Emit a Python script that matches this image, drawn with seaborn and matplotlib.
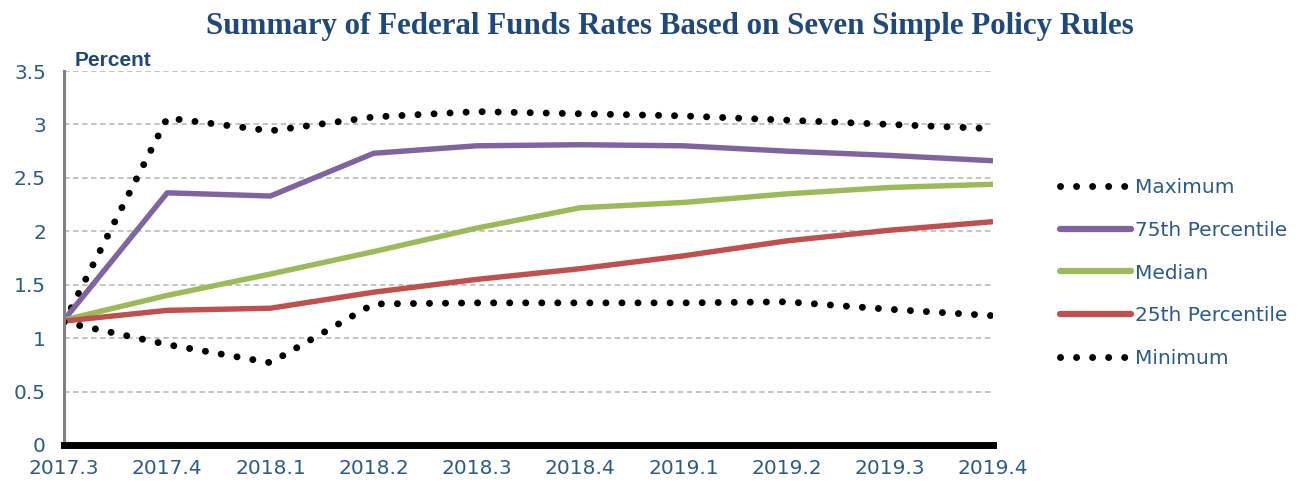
import numpy as np
import pandas as pd
import matplotlib
matplotlib.use("Agg")
import matplotlib.pyplot as plt
import seaborn as sns
from matplotlib.lines import Line2D

# ---------- data ----------
quarters = ["2017.3", "2017.4", "2018.1", "2018.2", "2018.3",
            "2018.4", "2019.1", "2019.2", "2019.3", "2019.4"]
maximum = [1.15, 3.06, 2.94, 3.07, 3.12, 3.10, 3.08, 3.04, 3.00, 2.96]
p75     = [1.17, 2.36, 2.33, 2.73, 2.80, 2.81, 2.80, 2.75, 2.71, 2.66]
median  = [1.17, 1.40, 1.60, 1.81, 2.03, 2.22, 2.27, 2.35, 2.41, 2.44]
p25     = [1.16, 1.26, 1.28, 1.43, 1.55, 1.65, 1.77, 1.91, 2.01, 2.09]
minimum = [1.15, 0.94, 0.77, 1.32, 1.33, 1.33, 1.33, 1.34, 1.27, 1.21]

series_names = ["Maximum", "75th Percentile", "Median", "25th Percentile", "Minimum"]
series_vals = [maximum, p75, median, p25, minimum]

rows = []
for name, vals in zip(series_names, series_vals):
    for i, v in enumerate(vals):
        rows.append({"pos": i, "quarter": quarters[i], "series": name, "value": v})
df = pd.DataFrame(rows)

# ---------- style ----------
sns.set_theme(style="white")
plt.rcParams["font.family"] = ["DejaVu Sans"]

text_blue = "#2A5A8E"
title_blue = "#1F497D"
colors = {
    "Maximum": "black",
    "75th Percentile": "#8064A2",
    "Median": "#9BBB59",
    "25th Percentile": "#C0504D",
    "Minimum": "black",
}
dotted = (0, (0.01, 2.3))

fig = plt.figure(figsize=(13.03, 4.87), dpi=100)
ax = fig.add_axes([64 / 1303, 1 - 445 / 487, (993 - 64) / 1303, (445 - 71) / 487])

for name in series_names:
    sub = df[df["series"] == name]
    is_dot = name in ("Maximum", "Minimum")
    sns.lineplot(
        data=sub, x="pos", y="value", ax=ax, color=colors[name],
        lw=5.0 if is_dot else 3.9, legend=False, sort=False,
        dash_capstyle="round", solid_capstyle="butt",
    )
    if is_dot:
        ax.lines[-1].set_linestyle(dotted)

# ---------- axes ----------
ax.set_xlim(0, len(quarters) - 1)
ax.set_ylim(0, 3.5)
ax.set_xticks(range(len(quarters)))
ax.set_xticklabels(quarters)
ax.set_yticks(np.arange(0, 3.51, 0.5))
ax.set_yticklabels(["0", "0.5", "1", "1.5", "2", "2.5", "3", "3.5"])
ax.set_xlabel("")
ax.set_ylabel("")
ax.tick_params(axis="both", length=0, labelsize=14.5, labelcolor=text_blue)
ax.tick_params(axis="y", pad=13)
ax.tick_params(axis="x", pad=10)

ax.grid(axis="y", color="#BFBFBF", linestyle=(0, (3, 2)), lw=1.3)
ax.grid(axis="x", visible=False)
for s in ["top", "right"]:
    ax.spines[s].set_visible(False)
ax.spines["left"].set_color("#808080")
ax.spines["left"].set_linewidth(2.2)
ax.spines["bottom"].set_color("black")
ax.spines["bottom"].set_linewidth(5)
ax.spines["bottom"].set_zorder(5)

# ---------- text ----------
fig.text(0.514, 0.945, "Summary of Federal Funds Rates Based on Seven Simple Policy Rules",
         ha="center", va="center", fontsize=22.3, fontweight="bold",
         family=["Liberation Serif", "DejaVu Serif"], color=title_blue)
fig.text(75 / 1303, 1 - 60 / 487, "Percent", ha="left", va="center", fontsize=15,
         fontweight="bold", family=["Liberation Sans", "DejaVu Sans"], color=title_blue)

# ---------- legend ----------
handles = []
for name in series_names:
    if name in ("Maximum", "Minimum"):
        h = Line2D([], [], color="black", lw=5.0, linestyle=dotted, dash_capstyle="round")
    else:
        h = Line2D([], [], color=colors[name], lw=4.5, solid_capstyle="round")
    handles.append(h)
leg = fig.legend(handles, series_names, loc="center left",
                 bbox_to_anchor=(1052 / 1303, 1 - 273 / 487),
                 frameon=False, fontsize=14.5, handlelength=3.5, handletextpad=0.2,
                 labelspacing=1.18, borderaxespad=0)
for t in leg.get_texts():
    t.set_color(text_blue)

fig.savefig("out.png", dpi=100)
